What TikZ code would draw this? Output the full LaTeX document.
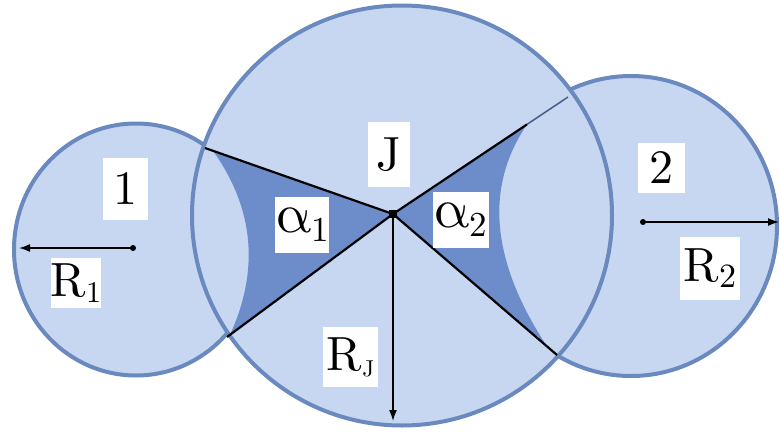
\documentclass[tikz,border=0pt]{standalone}
\usepackage{fontspec}
\setmainfont{lmroman10-regular.otf}
\newfontfamily\greekfont{latinmodern-math.otf}
\usetikzlibrary{arrows.meta}
\definecolor{lightfill}{RGB}{199,215,241}
\definecolor{ringblue}{RGB}{106,137,190}
\definecolor{darkfill}{RGB}{108,140,202}
\definecolor{fadeline}{RGB}{70,92,140}
\begin{document}
\begin{tikzpicture}[x=1pt,y=-1pt,
  disc/.style={fill=lightfill,draw=ringblue,line width=4pt},
  wedge/.style={fill=darkfill},
  ray/.style={black,line width=2.2pt},
  radiusarrow/.style={black,line width=1.6pt,-{Latex[length=11pt,width=8pt]}},
  lab/.style={fill=white,inner sep=0pt,font=\fontsize{48}{50}\selectfont},
  pin/.style={circle,fill=black,inner sep=0pt,minimum size=6pt},
  hub/.style={rectangle,fill=black,inner sep=0pt,minimum size=8pt}
]
\useasboundingbox (0,0) rectangle (780,437);
% discs
\coordinate (C1) at (136,249.5);
\coordinate (CJ) at (402,215.5);
\coordinate (C2) at (631,226);
\draw[disc] (C1) ellipse [x radius=122pt,y radius=126pt];
\draw[disc] (C2) ellipse [x radius=146pt,y radius=150pt];
\draw[disc] (CJ) circle [radius=210pt];
% angle wedges
\coordinate (O) at (393,214);
\coordinate (A1) at (213,150.8);
\coordinate (B1) at (230,334.8);
\coordinate (A2) at (527,124.4);
\coordinate (B2) at (547,346.4);
\fill[wedge] (O) -- (A1) .. controls (254,208.4) and (259.7,269.7) .. (B1) -- cycle;
\fill[wedge] (O) -- (A2) .. controls (484.3,187.2) and (491,261.2) .. (B2) -- cycle;
% rays to the intersection points
\coordinate (X1) at (205,148);
\coordinate (X2) at (227,337);
\coordinate (X3) at (568,97);
\coordinate (X4) at (557,355);
\draw[ray] (O) -- (X1);
\draw[ray] (O) -- (X2);
\draw[ray] (O) -- (A2);
\draw[fadeline,line width=1.5pt] (A2) -- (X3);
\draw[ray] (O) -- (X4);
% radius arrows
\node[hub] (o) at (O) {};
\coordinate (tJ) at (393,421);
\draw[radiusarrow] (o.center) -- (tJ);
\node[pin] (p1) at (133,248) {};
\coordinate (t1) at (19,248);
\draw[radiusarrow] (p1.center) -- (t1);
\node[pin] (p2) at (643,222) {};
\coordinate (t2) at (779,222);
\draw[radiusarrow] (p2.center) -- (t2);
% labels
\node[lab,minimum width=45pt,minimum height=62pt] (n1) at (125.5,189) {1};
\node[lab,minimum width=48pt,minimum height=50pt] (r1) at (76,283) {R\raisebox{-6pt}{\fontsize{30}{30}\selectfont 1}};
\node[lab,minimum width=52pt,minimum height=56pt] (a1) at (302,225) {{\greekfont\fontsize{56}{56}\selectfont α}\raisebox{-9pt}{\fontsize{35}{35}\selectfont 1}};
\node[lab,minimum width=42pt,minimum height=65pt] (nJ) at (389,154.5) {J};
\node[lab,minimum width=56pt,minimum height=56pt] (a2) at (460.5,219.5) {{\greekfont\fontsize{56}{56}\selectfont α}\raisebox{-9pt}{\fontsize{35}{35}\selectfont 2}};
\node[lab,minimum width=55pt,minimum height=60pt] (rJ) at (350.5,357) {R\raisebox{-6pt}{\fontsize{23}{23}\selectfont J}};
\node[lab,minimum width=47pt,minimum height=50pt] (n2) at (661.5,168) {2};
\node[lab,minimum width=60pt,minimum height=63pt] (r2) at (710,268.5) {R\raisebox{-6pt}{\fontsize{34}{34}\selectfont 2}};
\end{tikzpicture}
\end{document}
